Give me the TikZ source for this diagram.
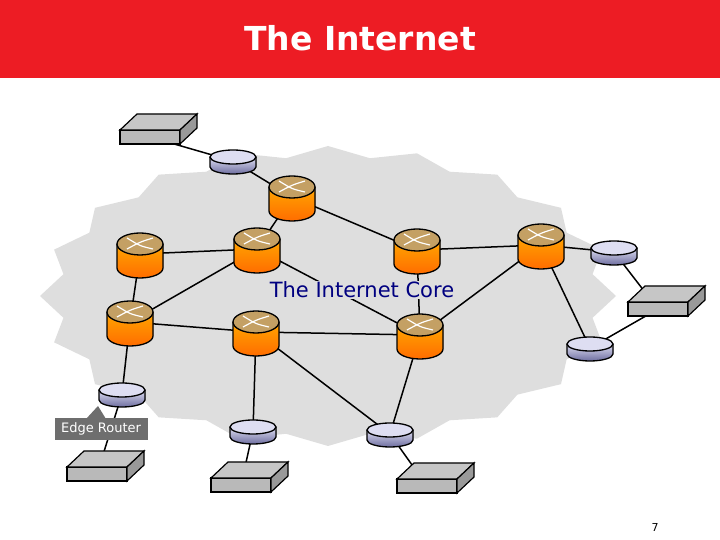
\documentclass[tikz,border=0pt]{standalone}
\usepackage{fontspec}
\setmainfont{DejaVu Sans}
\usetikzlibrary{calc}

\definecolor{titlered}{RGB}{237,28,36}
\definecolor{cloudgray}{RGB}{222,222,222}
\definecolor{coreblue}{RGB}{0,0,128}
\definecolor{edgetop}{RGB}{222,222,242}
\definecolor{edgedark}{RGB}{110,110,160}
\definecolor{coretop}{RGB}{196,160,100}
\definecolor{callout}{RGB}{110,110,110}

% Roteador do núcleo
\newcommand{\corerouter}[1]{%
  \fill[top color=orange!70!yellow, bottom color=orange!85!red]
    ($(#1)+(-23,10)$) -- ++(0,-24) arc (180:360:23pt and 10pt) -- ++(0,24) -- cycle;
  \draw[line width=1.3pt] ($(#1)+(-23,10)$) -- ++(0,-24) arc (180:360:23pt and 10pt) -- ++(0,24);
  \draw[line width=1.3pt, fill=coretop] ($(#1)+(0,10)$) ellipse (23pt and 11pt);
  \draw[white, line width=1.2pt] ($(#1)+(-13,5)$) .. controls ($(#1)+(0,12)$) .. ($(#1)+(13,16)$);
  \draw[white, line width=1.2pt] ($(#1)+(-13,16)$) .. controls ($(#1)+(0,8)$) .. ($(#1)+(13,5)$);
}
% Roteador de borda
\newcommand{\edgerouter}[1]{%
  \fill[top color=edgetop, bottom color=edgedark]
    ($(#1)+(-23,4)$) -- ++(0,-10) arc (180:360:23pt and 7pt) -- ++(0,10) -- cycle;
  \draw[line width=1.3pt] ($(#1)+(-23,4)$) -- ++(0,-10) arc (180:360:23pt and 7pt) -- ++(0,10);
  \draw[line width=1.3pt, fill=edgetop] ($(#1)+(0,4)$) ellipse (23pt and 7pt);
}
% Host
\newcommand{\hostbox}[1]{%
  \draw[line width=1.2pt, fill=gray!55] ($(#1)+(-30,-7)$) rectangle ($(#1)+(30,7)$);
  \draw[line width=1.2pt, fill=gray!45] ($(#1)+(-30,7)$) -- ++(17,16) -- ++(60,0) -- ++(-17,-16) -- cycle;
  \draw[line width=1.2pt, fill=gray!80] ($(#1)+(30,-7)$) -- ++(17,16) -- ++(0,14) -- ++(-17,-16) -- cycle;
}

\begin{document}
\begin{tikzpicture}[x=1pt, y=1pt,
    link/.style={line width=1.5pt},
    every node/.style={inner sep=1pt}]
    \useasboundingbox (0,0) rectangle (720,540);

    % Faixa do título
    \fill[titlered] (0,462) rectangle (720,540);
    \node[white, font=\bfseries\fontsize{33}{38}\selectfont] (title) at (360,502) {The Internet};

    % Nuvem
    \fill[cloudgray] plot[samples at={0,...,39}]
      ({328+288*(1-0.07*mod(\x,2))*cos(\x*9)}, {244+150*(1-0.07*mod(\x,2))*sin(\x*9)}) -- cycle;

    % Posições
    \coordinate (R1) at (292,343);
    \coordinate (R2) at (257,291);
    \coordinate (R3) at (140,286);
    \coordinate (R4) at (130,218);
    \coordinate (R5) at (256,208);
    \coordinate (R6) at (417,290);
    \coordinate (R7) at (541,295);
    \coordinate (R8) at (420,205);
    \coordinate (E1) at (233,379);
    \coordinate (E2) at (614,288);
    \coordinate (E3) at (590,192);
    \coordinate (E4) at (390,106);
    \coordinate (E5) at (122,146);
    \coordinate (E6) at (253,109);
    \coordinate (H1) at (150,403);
    \coordinate (H2) at (658,231);
    \coordinate (H3) at (427,54);
    \coordinate (H4) at (97,66);
    \coordinate (H5) at (241,55);

    % Enlaces
    \foreach \a/\b in {H1/E1, E1/R1, R1/R2, R1/R6, R3/R2, R2/R4, R3/R4, R4/R5,
                       R4/E5, R5/R8, R5/E4, R5/E6, R2/R8, R6/R8, R6/R7, R7/R8,
                       R7/E2, R7/E3, E2/H2, E3/H2, R8/E4, E4/H3, E5/H4, E6/H5}
      \draw[link] (\a) -- (\b);

    % Rótulo do núcleo
    \node[fill=cloudgray, text=coreblue, font=\fontsize{21}{24}\selectfont] (core) at (362,250) {The Internet Core};

    % Equipamentos
    \foreach \r in {R1,R2,R3,R4,R5,R6,R7,R8} \corerouter{\r};
    \foreach \e in {E1,E2,E3,E4,E5,E6} \edgerouter{\e};
    \foreach \h in {H1,H2,H3,H4,H5} \hostbox{\h};

    % Balão do roteador de borda
    \fill[callout] (86,121) -- (98,134) -- (106,121) -- cycle;
    \node[fill=callout, text=white, minimum width=93pt, minimum height=22pt,
          font=\fontsize{13}{15}\selectfont] (edgelabel) at (101,111) {Edge Router};

    % Número da página
    \node[font=\fontsize{11}{13}\selectfont] (page) at (655,13) {7};
\end{tikzpicture}
\end{document}
